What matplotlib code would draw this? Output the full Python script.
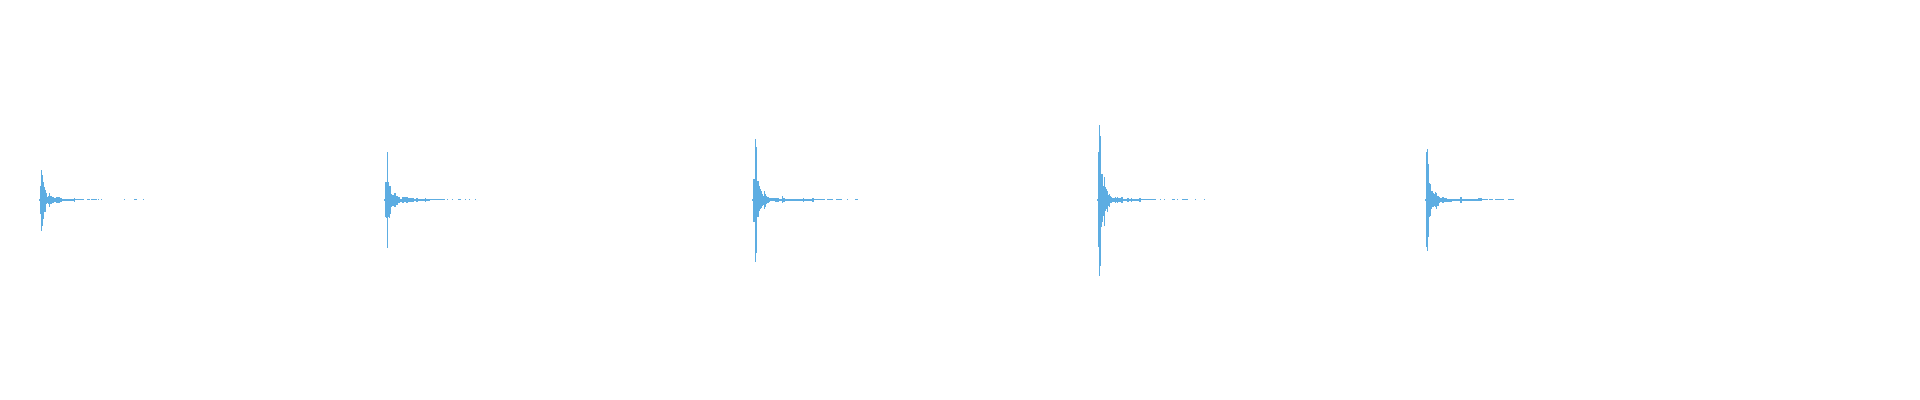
import numpy as np
import matplotlib
matplotlib.use("Agg")
import matplotlib.pyplot as plt

# Waveform overview: 5 percussive hits, one value pair (peak up / peak down) per frame.
n_frames = 1920
wave_color = "#5DADE2"

# frame where each hit starts
onsets = [39, 384, 752, 1097, 1425]

# positive / negative peak per frame after onset
hit1_up = [1, 14, 30, 25, 18, 13, 10, 7, 3, 4, 7, 4, 4, 3, 3, 2, 2, 3, 3, 3, 3, 2, 2, 1, 1, 1,
           1, 1, 1, 1, 1, 1, 1, 1, 1, 2, .5, .5, .5, .5, .5, .5, .5, .5, .5]
hit1_dn = [1, 14, 31, 26, 19, 12, 12, 4, 3, 4, 7, 4, 4, 3, 3, 2, 2, 3, 3, 3, 3, 2, 2, 1, 1, 1,
           1.5, 1.5, 1.5, 1.5, 1.5, 1.5, 1.5, 1.5, 1.5, 2, .5, .5, .5, .5, .5, .5, .5, .5, .5]

hit2_up = [1, 18, 18, 48, 18, 14, 14, 6, 5, 5, 7, 7, 4, 4, 3, 3, 1, 1, 3, 3, 3, 3, 3, 3,
           2, 2, 2, 2, 2, 2, 1, 1, 2, 2, 1, 1, 1, 1, 1, 1, 1, 2, 1, 1, 1, 1,
           .5, .5, .5, .5, .5, .5, .5, .5, .5, .5, .5, .5, .5, .5, .5]
hit2_dn = [1, 17, 18, 48, 17, 18, 14, 7, 6, 6, 7, 7, 5, 5, 3, 3, 2, 2, 3, 3, 2, 2, 3, 3,
           2, 2, 2, 2, 2, 2, 1, 1, 2, 2, 1, 1, 1, 1, 1, 1, 1, 2, 1, 1, 1, 1,
           .5, .5, .5, .5, .5, .5, .5, .5, .5, .5, .5, .5, .5, .5, .5]

hit3_up = [1, 21, 21, 61, 53, 19, 19, 14, 11, 9, 6, 4, 9, 6, 4, 3, 3, 2, 1.5, 1.5, 1.5, 1.5, 1.5,
           2, 2, 2, 2, 1, 1, 1, 4, 2, 2, 1, 1, 1, 1, 1,
           1, 1, 1, 1, 1, 1, 1, 1, 1, 1, 1, 1, 1, 2, 1, 1, 1, 1, 1, 1, 1, 1, 2, 2,
           .5, .5, .5, .5, .5, .5, .5, .5, .5, .5, .5]
hit3_dn = [1, 22, 22, 62, 53, 17, 17, 11, 9, 8, 6, 5, 9, 7, 4, 3, 3, 2, 1.5, 1.5, 1.5, 1.5, 1.5,
           2, 2, 2, 2, 1, 1, 1, 3, 2, 2, 1, 1, 1, 1, 1,
           1, 1, 1, 1, 1, 1, 1, 1, 1, 1, 1, 1, 1, 2, 1, 1, 1, 1, 1, 1, 1, 1, 2, 2,
           .5, .5, .5, .5, .5, .5, .5, .5, .5, .5, .5]

hit4_up = [1, 48, 75, 64, 26, 26, 14, 23, 13, 11, 9, 5, 6, 4, 3, 2, 2, 2, 3, 2, 3, 2, 2, 2, 3, 3,
           1, 1, 1, 1, 2, 2, 1, 1, 2, 1, 1, 1, 1, 1, 1, 1, 2, 2,
           .5, .5, .5, .5, .5, .5, .5, .5, .5, .5, .5, .5, .5, .5, .5]
hit4_dn = [1, 47, 76, 66, 27, 22, 16, 26, 11, 9, 12, 6, 7, 3, 3, 2, 2, 2, 3, 2, 3, 2, 2, 2, 3, 3,
           1, 1, 1, 1, 2, 2, 1, 1, 2, 1, 1, 1, 1, 1, 1, 1, 2, 2,
           .5, .5, .5, .5, .5, .5, .5, .5, .5, .5, .5, .5, .5, .5, .5]

hit5_up = [1, 48, 51, 36, 17, 16, 9, 9, 7, 6, 8, 7, 4, 4, 3, 2, 2, 3, 3, 2, 2, 2,
           1, 1, 1, 1, 1, 1, 1, 1, 1, 1, 1, 1, 1, 3, 3,
           1, 1, 1, 1, 1, 1, 1, 1, 1, 1, 1, 1, 1, 1, 1, 1, 1.5, 1.5, 1.5, 1.5, .5, .5]
hit5_dn = [1, 47, 51, 37, 17, 16, 9, 7, 7, 6, 7, 9, 6, 6, 3, 2, 2, 3, 3, 2, 2, 2,
           2, 2, 2, 2, 2, 1, 1, 1, 1, 1, 1, 1, 1, 3, 3,
           1, 1, 1, 1, 1, 1, 1, 1, 1, 1, 1, 1, 1, 1, 1, 1, 1.5, 1.5, 1.5, 1.5, .5, .5]

# faint residue after each hit: (first, last) frame offset from onset
hit1_tail = [(48, 50), (52, 57), (59, 59), (62, 62), (85, 85), (95, 97), (104, 104)]
hit2_tail = [(63, 63), (68, 68), (74, 76), (81, 81), (85, 85), (91, 91)]
hit3_tail = [(75, 80), (84, 89), (95, 95), (103, 105)]
hit4_tail = [(63, 63), (67, 67), (75, 77), (80, 80), (85, 90), (98, 98), (107, 107)]
hit5_tail = [(59, 62), (64, 67), (70, 78), (83, 88)]
tail_level = 0.5

hits = [(hit1_up, hit1_dn, hit1_tail), (hit2_up, hit2_dn, hit2_tail), (hit3_up, hit3_dn, hit3_tail),
        (hit4_up, hit4_dn, hit4_tail), (hit5_up, hit5_dn, hit5_tail)]

fig = plt.figure(figsize=(19.2, 4), dpi=100)
ax = fig.add_axes([0, 0, 1, 1])

for t0, (up, dn, tail) in zip(onsets, hits):
    up = np.array(up, dtype=float)
    dn = np.array(dn, dtype=float)
    x = t0 + np.arange(len(up))
    ax.bar(x, up + dn, bottom=-dn, width=1, align="edge", color=wave_color, linewidth=0)
    for a, b in tail:
        xs = t0 + np.arange(a, b + 1)
        ax.bar(xs, 2 * tail_level, bottom=-tail_level, width=1, align="edge",
               color=wave_color, linewidth=0)

ax.set_xlim(0, n_frames)
ax.set_ylim(-200.5, 199.5)
ax.axis("off")

fig.savefig("out.png", dpi=100, facecolor="white")
